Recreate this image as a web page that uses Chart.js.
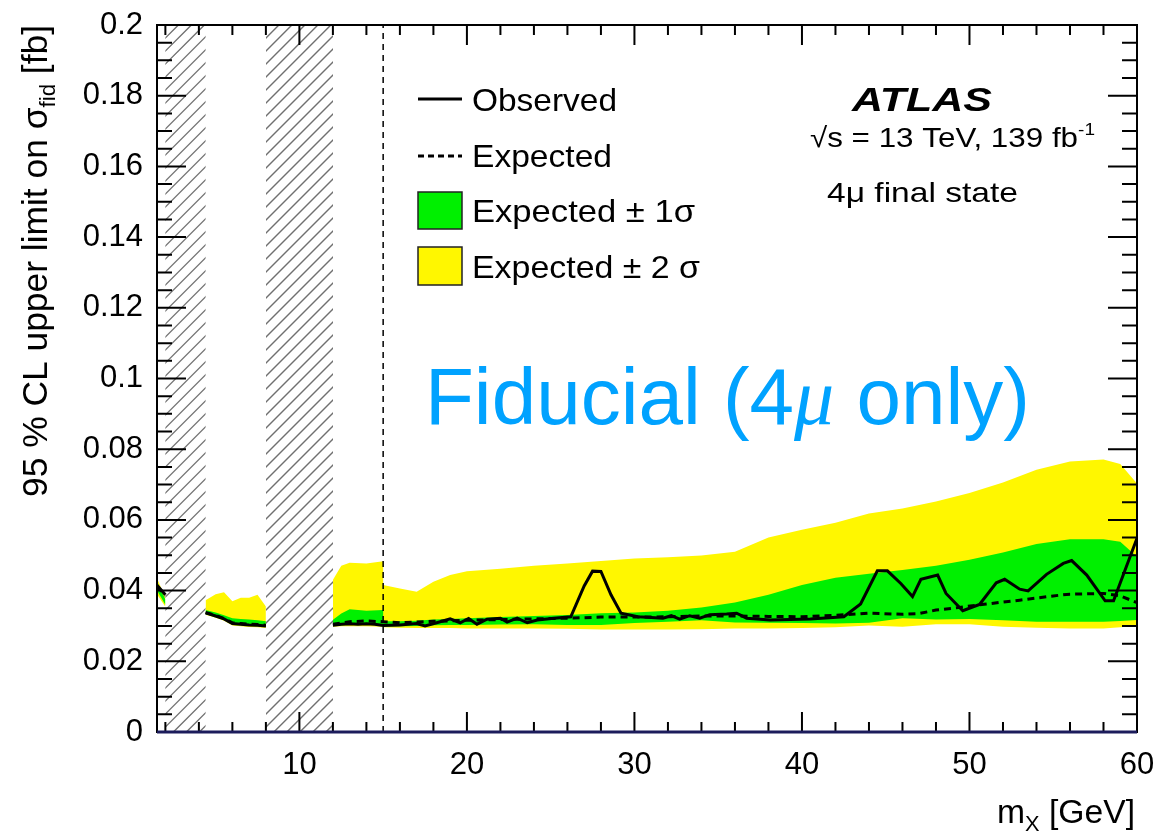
<!DOCTYPE html>
<html>
<head>
<meta charset="utf-8">
<script src="https://cdn.jsdelivr.net/npm/chart.js@4.4.1/dist/chart.umd.min.js"></script>
<style>
  html, body { margin: 0; padding: 0; background: #fff; }
  canvas { display: block; }
</style>
</head>
<body>
<canvas id="myChart" width="1157" height="836"></canvas>
<script>
// mX grid shared by the four band edges (null = no limit in that mass window)
var bandX = [1.5, 2, 3, 4.4, 5, 5.5, 6, 6.5, 7, 7.5, 8, 10,
  12, 12.5, 13, 14, 15, 15, 16, 17, 18, 19, 20,
  22, 24, 26, 28, 30, 32, 34, 36, 38, 40, 42, 44, 46, 48, 50, 52, 54, 56, 58, 59, 60];
var yellowHi = [0.0435, 0.038, null, 0.0373, 0.039, 0.0395, 0.037, 0.038, 0.038, 0.0388, 0.0355, null,
  0.043, 0.047, 0.0479, 0.0477, 0.0483, 0.0416, 0.0406, 0.0397, 0.0425, 0.0444, 0.0455,
  0.0462, 0.047, 0.0477, 0.0484, 0.0491, 0.0494, 0.0499, 0.051, 0.055, 0.0572, 0.0592, 0.0618,
  0.0632, 0.0652, 0.0676, 0.0706, 0.0742, 0.0765, 0.0771, 0.0758, 0.0703];
var yellowLo = [0.039, 0.0354, null, 0.0332, 0.0323, 0.0315, 0.0301, 0.0299, 0.0297, 0.0296, 0.0294, null,
  0.0298, 0.0299, 0.0299, 0.0299, 0.0298, 0.0296, 0.0295, 0.0294, 0.0294, 0.0294, 0.0293,
  0.0293, 0.0293, 0.0292, 0.029, 0.029, 0.029, 0.0291, 0.0293, 0.0293, 0.0294, 0.0296, 0.0301,
  0.0298, 0.0305, 0.0305, 0.0298, 0.0295, 0.0293, 0.0293, 0.0296, 0.030];
var greenHi = [0.0425, 0.0375, null, 0.0345, 0.0338, 0.033, 0.0322, 0.032, 0.0318, 0.0316, 0.0313, null,
  0.0317, 0.0335, 0.0347, 0.0343, 0.0345, 0.0313, 0.0313, 0.0315, 0.0318, 0.032, 0.0322,
  0.0325, 0.0328, 0.0331, 0.0336, 0.0338, 0.0343, 0.0352, 0.0366, 0.0388, 0.0416, 0.0436, 0.0448,
  0.0458, 0.047, 0.0487, 0.0508, 0.0532, 0.0545, 0.0545, 0.0538, 0.0496];
var greenLo = [0.040, 0.036, null, 0.0333, 0.0325, 0.0317, 0.0303, 0.0302, 0.030, 0.0299, 0.0297, null,
  0.030, 0.0302, 0.0303, 0.0303, 0.0303, 0.0299, 0.0299, 0.030, 0.0302, 0.0303, 0.0303,
  0.0304, 0.0305, 0.0303, 0.0303, 0.0308, 0.0312, 0.0316, 0.031, 0.0309, 0.0308, 0.0307, 0.0309,
  0.0322, 0.0318, 0.032, 0.0316, 0.0312, 0.0312, 0.0312, 0.0314, 0.0317];

var obsX = [1.5, 2, 3, 4.4, 5, 5.5, 6, 6.5, 7, 7.5, 8, 10,
  12, 12.5, 13, 13.5, 14, 14.5, 15, 16, 17, 17.5, 18.2, 19, 19.6, 20.1, 20.6, 21.2, 22,
  22.4, 23, 23.6, 24.2, 25.2, 26.2, 27, 27.5, 28, 28.6, 29.2, 30.2, 31, 31.7, 32.2, 32.7,
  33.3, 33.9, 34.5, 35.5, 36.1, 36.7, 38.1, 40.5, 42.5, 43.5, 44.5, 45.1, 45.9, 46.6,
  47.1, 48.1, 48.6, 49.6, 50.6, 51.6, 52.1, 53, 53.5, 54.6, 55.6, 56.1, 57, 58.1, 58.6, 60];
var observed = [0.0415, 0.0388, null, 0.0337, 0.0328, 0.032, 0.0307, 0.0305, 0.0303, 0.0302, 0.030, null,
  0.0302, 0.0305, 0.0306, 0.0305, 0.0306, 0.0305, 0.0301, 0.0303, 0.0307, 0.030, 0.0309, 0.032, 0.0309, 0.0321, 0.0305, 0.0319, 0.0322,
  0.0311, 0.0322, 0.0309, 0.0317, 0.0322, 0.0326, 0.0413, 0.0455, 0.0454, 0.0388, 0.0336, 0.0326, 0.0324, 0.0322, 0.0329, 0.0319,
  0.0329, 0.0322, 0.0332, 0.0334, 0.0336, 0.0322, 0.0317, 0.032, 0.0326, 0.0362, 0.0456, 0.0456, 0.042, 0.0383,
  0.0432, 0.0444, 0.0392, 0.0343, 0.0361, 0.0422, 0.0432, 0.0404, 0.0399, 0.0446, 0.0477, 0.0485, 0.0444, 0.0371, 0.0371, 0.0548];

var expX = [1.5, 2, 3, 4.4, 5, 5.5, 6, 6.5, 7, 7.5, 8, 10,
  12, 13, 14, 15, 16, 17, 18, 20, 22, 24, 26, 28, 30, 32, 34, 36, 38, 40, 42, 44,
  46, 47, 48, 49, 51, 53, 55, 56, 58, 59, 60];
var expected = [0.0412, 0.0386, null, 0.0338, 0.033, 0.0321, 0.0309, 0.0307, 0.0305, 0.0304, 0.0302, null,
  0.0305, 0.0312, 0.0314, 0.0312, 0.0309, 0.0311, 0.0313, 0.0316, 0.0318, 0.032, 0.0322, 0.0325, 0.0325, 0.0326, 0.0328, 0.0328, 0.0327, 0.0326, 0.033, 0.0336,
  0.0333, 0.0335, 0.0345, 0.035, 0.0362, 0.0373, 0.0385, 0.039, 0.0392, 0.0385, 0.0366];

var xTicks = [10, 20, 30, 40, 50, 60];
var yTicks = [0, 0.02, 0.04, 0.06, 0.08, 0.1, 0.12, 0.14, 0.16, 0.18, 0.2];
var vetoed = [[2, 4.4], [8, 12]];   // hatched quarkonium windows
var lineAt = 15;

var FONT = '"Liberation Sans", Arial, Helvetica, sans-serif';
var YELLOW = '#fff700';
var GREEN = '#00f000';

function pts(xs, ys) {
  return xs.map(function (x, i) { return { x: x, y: ys[i] }; });
}

// text pieces (font, text, vertical shift) drawn one after the other
function runs(ctx, x, y, parts) {
  parts.forEach(function (p) {
    ctx.font = p.f;
    ctx.fillText(p.t, x, y + (p.dy || 0));
    x += ctx.measureText(p.t).width;
  });
  return x;
}
function runsWidth(ctx, parts) {
  var w = 0;
  parts.forEach(function (p) { ctx.font = p.f; w += ctx.measureText(p.t).width; });
  return w;
}
// stretch a run horizontally so it spans x0..x1 (ROOT text is set wider)
function fitRuns(ctx, x0, x1, y, parts) {
  var w = runsWidth(ctx, parts);
  ctx.save();
  ctx.translate(x0, y);
  ctx.scale((x1 - x0) / w, 1);
  runs(ctx, 0, 0, parts);
  ctx.restore();
}

var overlay = {
  id: 'overlay',
  beforeDatasetsDraw: function (chart) {
    var ctx = chart.ctx, a = chart.chartArea, x = chart.scales.x;
    var h = a.bottom - a.top;
    vetoed.forEach(function (r) {
      var l = x.getPixelForValue(r[0]), rr = x.getPixelForValue(r[1]);
      ctx.save();
      ctx.beginPath();
      ctx.rect(l, a.top, rr - l, h);
      ctx.clip();
      ctx.strokeStyle = '#707070';
      ctx.lineWidth = 1.4;
      ctx.beginPath();
      for (var k = l - h; k < rr + 14; k += 13) {
        ctx.moveTo(k, a.bottom);
        ctx.lineTo(k + h, a.top);
      }
      ctx.stroke();
      ctx.restore();
    });
  },
  afterDatasetsDraw: function (chart) {
    var ctx = chart.ctx, a = chart.chartArea, x = chart.scales.x, y = chart.scales.y;
    ctx.save();

    // dashed line at 15 GeV
    var px = x.getPixelForValue(lineAt);
    ctx.strokeStyle = '#000';
    ctx.lineWidth = 1.5;
    ctx.setLineDash([6, 5]);
    ctx.beginPath();
    ctx.moveTo(px, a.bottom);
    ctx.lineTo(px, a.top);
    ctx.stroke();
    ctx.setLineDash([]);

    // frame
    ctx.lineWidth = 2;
    ctx.strokeRect(a.left, a.top, a.right - a.left, a.bottom - a.top);

    // inward ticks
    ctx.beginPath();
    for (var k = 0; k <= 40; k++) {
      var py = y.getPixelForValue(k * 0.005);
      var len = k % 4 === 0 ? 29 : 15;
      ctx.moveTo(a.left, py); ctx.lineTo(a.left + len, py);
      ctx.moveTo(a.right, py); ctx.lineTo(a.right - len, py);
    }
    for (var v = 2; v <= 60; v += 2) {
      var tx = x.getPixelForValue(v);
      var tl = v % 10 === 0 ? 20 : 10;
      ctx.moveTo(tx, a.bottom); ctx.lineTo(tx, a.bottom - tl);
      ctx.moveTo(tx, a.top); ctx.lineTo(tx, a.top + tl);
    }
    ctx.stroke();

    ctx.strokeStyle = '#1c1c5c';
    ctx.lineWidth = 3;
    ctx.beginPath();
    ctx.moveTo(a.left, a.bottom);
    ctx.lineTo(a.right, a.bottom);
    ctx.stroke();

    ctx.fillStyle = '#000';
    ctx.strokeStyle = '#000';
    ctx.textBaseline = 'alphabetic';
    ctx.textAlign = 'left';

    // x title
    var xt = [{ f: '34px ' + FONT, t: 'm' }, { f: '22px ' + FONT, t: 'X', dy: 8 }, { f: '34px ' + FONT, t: ' [GeV]' }];
    fitRuns(ctx, 997, 1135, 823, xt);

    // y title (rotated)
    var yt = [{ f: '35px ' + FONT, t: '95 % CL upper limit on σ' }, { f: '22px ' + FONT, t: 'fid', dy: 8 }, { f: '35px ' + FONT, t: ' [fb]' }];
    ctx.save();
    ctx.translate(47, 0);
    ctx.rotate(-Math.PI / 2);
    fitRuns(ctx, -497, -25, 0, yt);
    ctx.restore();

    // legend
    ctx.lineWidth = 3;
    ctx.beginPath(); ctx.moveTo(418, 99); ctx.lineTo(462, 99); ctx.stroke();
    ctx.setLineDash([6, 4]);
    ctx.beginPath(); ctx.moveTo(418, 156); ctx.lineTo(462, 156); ctx.stroke();
    ctx.setLineDash([]);
    ctx.lineWidth = 1.5;
    ctx.strokeStyle = '#222';
    ctx.fillStyle = GREEN; ctx.fillRect(418, 192, 44, 37);
    ctx.strokeRect(418, 192, 44, 37);
    ctx.fillStyle = YELLOW; ctx.fillRect(418, 247, 44, 38);
    ctx.strokeRect(418, 247, 44, 38);
    ctx.fillStyle = '#000';
    var lf = '32px ' + FONT;
    fitRuns(ctx, 472, 617, 111, [{ f: lf, t: 'Observed' }]);
    fitRuns(ctx, 472, 612, 167, [{ f: lf, t: 'Expected' }]);
    fitRuns(ctx, 472, 695, 222, [{ f: lf, t: 'Expected ± 1σ' }]);
    fitRuns(ctx, 472, 700, 278, [{ f: lf, t: 'Expected ± 2 σ' }]);

    // ATLAS label block
    fitRuns(ctx, 852, 992, 111, [{ f: 'italic bold 33px ' + FONT, t: 'ATLAS' }]);
    fitRuns(ctx, 810, 1095, 147, [{ f: '28px ' + FONT, t: '√s = 13 TeV, 139 fb' }, { f: '17px ' + FONT, t: '-1', dy: -12 }]);
    fitRuns(ctx, 827, 1018, 202, [{ f: '28px ' + FONT, t: '4μ final state' }]);

    // big blue label
    ctx.fillStyle = '#00a2ff';
    runs(ctx, 425, 424, [
      { f: '80px ' + FONT, t: 'Fiducial (4' },
      { f: 'italic 80px "Liberation Serif", serif', t: 'μ' },
      { f: '80px ' + FONT, t: ' only)' }
    ]);

    ctx.restore();
  }
};

var ctx = document.getElementById('myChart').getContext('2d');

var lineBase = { pointRadius: 0, pointHoverRadius: 0, tension: 0, spanGaps: false };

function noPad(s) {
  s.paddingLeft = 0; s.paddingRight = 0; s.paddingTop = 0; s.paddingBottom = 0;
}

var graphData = {
  type: 'line',
  data: {
    datasets: [
      Object.assign({ label: 'Observed', data: pts(obsX, observed), borderColor: '#000', borderWidth: 3, fill: false }, lineBase),
      Object.assign({ label: 'Expected', data: pts(expX, expected), borderColor: '#000', borderWidth: 3, borderDash: [7, 5], fill: false }, lineBase),
      Object.assign({ label: 'Expected ± 1σ', data: pts(bandX, greenHi), borderWidth: 0, borderColor: GREEN, backgroundColor: GREEN, fill: '+1' }, lineBase),
      Object.assign({ label: 'green low', data: pts(bandX, greenLo), borderWidth: 0, borderColor: GREEN, fill: false }, lineBase),
      Object.assign({ label: 'Expected ± 2σ', data: pts(bandX, yellowHi), borderWidth: 0, borderColor: YELLOW, backgroundColor: YELLOW, fill: '+1' }, lineBase),
      Object.assign({ label: 'yellow low', data: pts(bandX, yellowLo), borderWidth: 0, borderColor: YELLOW, fill: false }, lineBase)
    ]
  },
  options: {
    responsive: false,
    animation: false,
    devicePixelRatio: 1,
    layout: { padding: { top: 25, right: 20, left: 0, bottom: 0 } },
    plugins: {
      legend: { display: false },
      tooltip: { enabled: false },
      filler: { propagate: false }
    },
    scales: {
      x: {
        type: 'linear',
        min: 1.5,
        max: 60,
        afterFit: function (s) { s.height = 104; noPad(s); },
        afterBuildTicks: function (s) { s.ticks = xTicks.map(function (v) { return { value: v }; }); },
        grid: { display: false, drawTicks: false },
        border: { display: false },
        ticks: { color: '#000', font: { family: FONT, size: 31 }, padding: 15, maxRotation: 0, autoSkip: false }
      },
      y: {
        type: 'linear',
        min: 0,
        max: 0.2,
        afterFit: function (s) { s.width = 157; noPad(s); },
        afterBuildTicks: function (s) { s.ticks = yTicks.map(function (v) { return { value: v }; }); },
        grid: { display: false, drawTicks: false },
        border: { display: false },
        ticks: {
          color: '#000', font: { family: FONT, size: 31 }, padding: 14, autoSkip: false,
          callback: function (v) { return String(parseFloat(v.toFixed(2))); }
        }
      }
    }
  },
  plugins: [overlay]
};

var myChart = new Chart(ctx, graphData);
</script>
</body>
</html>
